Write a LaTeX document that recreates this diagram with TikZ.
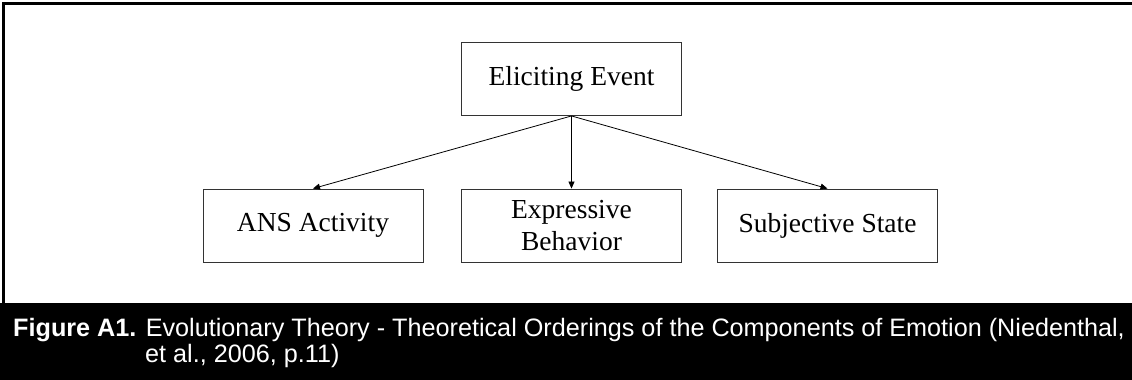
\documentclass[tikz,border=0pt]{standalone}
\usepackage{fontspec}
\setmainfont{Liberation Serif}
\newfontfamily\capfont{Liberation Sans}
\usetikzlibrary{arrows.meta}
\begin{document}
\begin{tikzpicture}[x=1pt,y=-1pt,
		box/.style={draw=black!80,line width=0.9pt,minimum width=220pt,minimum height=73pt,inner sep=0pt,align=center,font=\fontsize{27.5}{32}\selectfont},
		arr/.style={-{Triangle[length=7pt,width=6pt]},line width=0.8pt},
		captext/.style={anchor=base west,inner sep=0pt,text=white,font=\capfont\fontsize{25.2}{26}\selectfont}]
	\useasboundingbox (0,0) rectangle (1132,380);
	\fill[white] (0,0) rectangle (1132,380);
	% frame and caption band
	\draw[line width=3pt] (3,303) -- (3,3) -- (1132,3);
	\fill[black] (0,303) rectangle (1132,380);
	\node[box] (event) at (571.5,79) {Eliciting Event};
	\foreach \x/\n/\t in {313/ans/{ANS Activity},571.5/expr/{Expressive\\Behavior},827.5/subj/{Subjective State}}{
			\node[box] (\n) at (\x,225.5) {\t};
		}
	\draw[arr] (event.south) -- (ans.north);
	\draw[arr] (event.south) -- (expr.north);
	\draw[arr] (event.south) -- (subj.north);
	\node[captext] (cap1) at (13,336) {\textbf{Figure A1.} Evolutionary Theory - Theoretical Orderings of the Components of Emotion (Niedenthal,};
	\node[captext] (cap2) at (145,362) {et al., 2006, p.11)};
\end{tikzpicture}
\end{document}
